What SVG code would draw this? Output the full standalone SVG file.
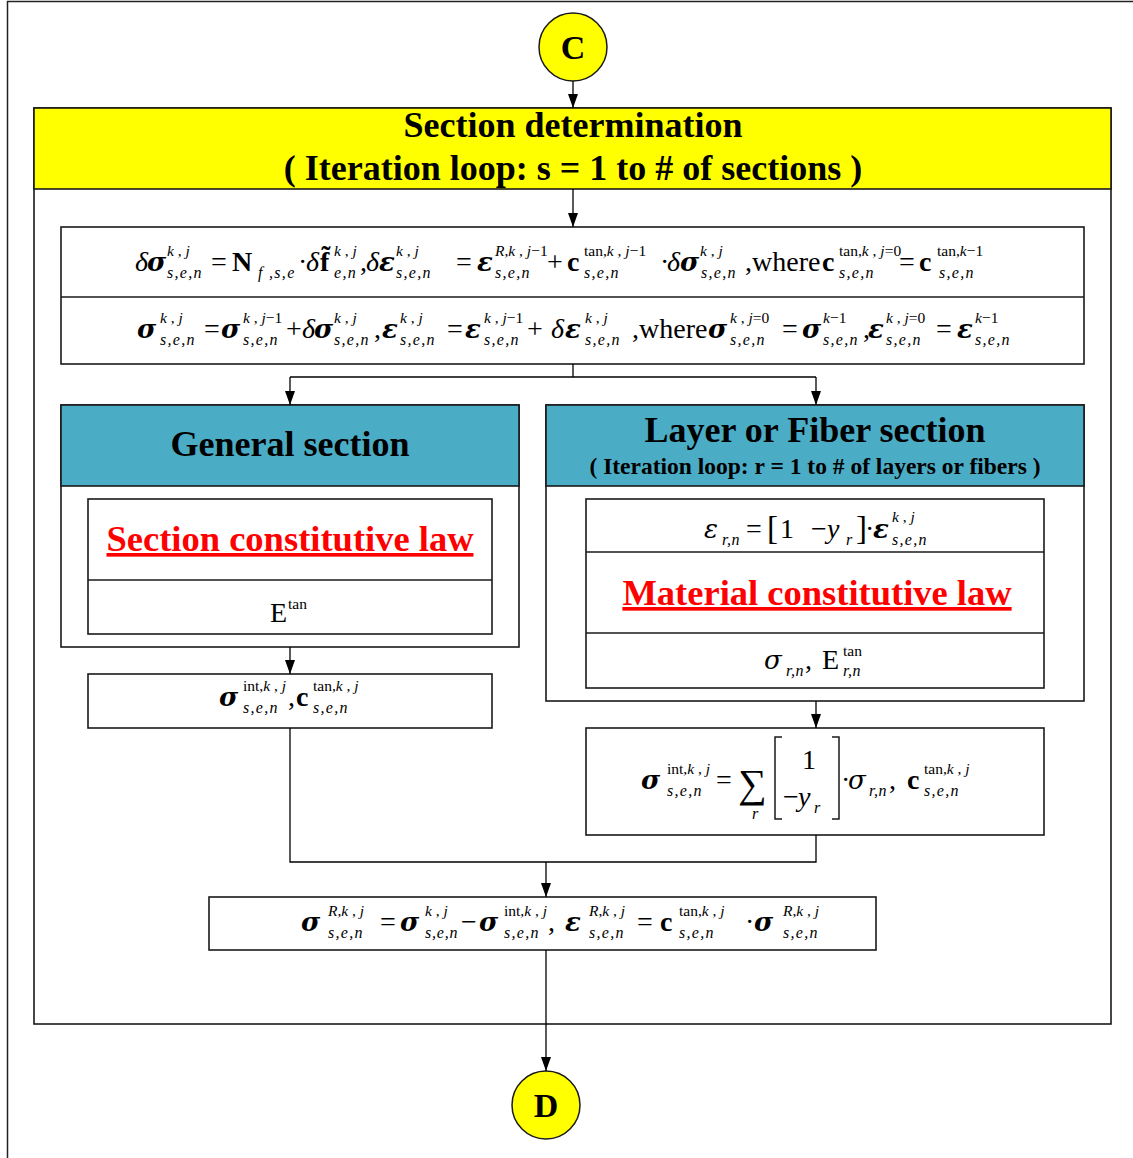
<svg xmlns="http://www.w3.org/2000/svg" width="1133" height="1158" viewBox="0 0 1133 1158">
<style>
.t{font-family:"Liberation Serif","DejaVu Serif",serif;fill:#000}
.m{font-size:28px}
.g{font-family:"DejaVu Serif",serif;font-size:26px}
.sp{font-size:15.5px}
.sb{font-size:16px;font-style:italic;letter-spacing:1.3px}
.bi{font-weight:bold;font-style:italic}
.b{font-weight:bold}
.i{font-style:italic}
.box{fill:#fff;stroke:#1a1a1a;stroke-width:1.6}
.ln{fill:none;stroke:#1a1a1a;stroke-width:1.3}
.hd{font-family:"Liberation Serif",serif;font-weight:bold;font-size:36px;text-anchor:middle}
.law{font-family:"Liberation Serif",serif;font-weight:bold;font-size:36.5px;text-anchor:middle;fill:#ff0000;text-decoration:underline}
</style>
<defs>
<marker id="ar" markerWidth="14" markerHeight="10" refX="14" refY="5" orient="auto" markerUnits="userSpaceOnUse"><path d="M0,0 L14,5 L0,10 z" fill="#000"/></marker>
</defs>
<rect width="1133" height="1158" fill="#fff"/>
<path d="M7.5,1158 V1.5 H1133" fill="none" stroke="#222" stroke-width="1.5"/>

<g id="section">
<rect class="box" x="34" y="108" width="1077" height="916"/>
<rect x="34" y="108" width="1077" height="81" fill="#ffff00" stroke="#1a1a1a" stroke-width="1.6"/>
<text class="hd" x="573" y="137">Section determination</text>
<text class="hd" x="573" y="180">( Iteration loop: s = 1 to # of sections )</text>
</g>

<g id="nodeC">
<circle cx="573" cy="47" r="34" fill="#ffff00" stroke="#1a1a1a" stroke-width="1.5"/>
<text class="hd" x="573" y="59" style="font-size:34px">C</text>
</g>

<g id="nodeD">
<circle cx="546" cy="1105" r="34" fill="#ffff00" stroke="#1a1a1a" stroke-width="1.5"/>
<text class="hd" x="546" y="1117" style="font-size:34px">D</text>
</g>

<g id="increment">
<rect class="box" x="61" y="227" width="1023" height="137"/>
<line class="ln" x1="61" y1="297" x2="1084" y2="297" style="stroke-width:1.6"/>
<!-- row 1 -->
<text class="t m i" x="135" y="271">δ</text>
<text class="t g bi" x="147" y="271">σ</text>
<text class="t sp" x="167" y="256"><tspan class="i">k</tspan> , <tspan class="i">j</tspan></text>
<text class="t sb" x="167" y="278">s,e,n</text>
<text class="t m" x="211" y="271">=</text>
<text class="t m b" x="232" y="271">N</text>
<text class="t sb" x="258" y="278">f ,s,e</text>
<text class="t m" x="298" y="271">·</text>
<text class="t m i" x="306" y="271">δ</text>
<text class="t m b" x="320" y="271">f̃</text>
<text class="t sp" x="334" y="256"><tspan class="i">k</tspan> , <tspan class="i">j</tspan></text>
<text class="t sb" x="334" y="278">e,n</text>
<text class="t m" x="360" y="271">,</text>
<text class="t m i" x="366" y="271">δ</text>
<text class="t g bi" x="379" y="271">ε</text>
<text class="t sp" x="396" y="256"><tspan class="i">k</tspan> , <tspan class="i">j</tspan></text>
<text class="t sb" x="396" y="278">s,e,n</text>
<text class="t m" x="456" y="271">=</text>
<text class="t g bi" x="477" y="271">ε</text>
<text class="t sp" x="495" y="256"><tspan class="i">R</tspan>,<tspan class="i">k</tspan> , <tspan class="i">j</tspan>−1</text>
<text class="t sb" x="495" y="278">s,e,n</text>
<text class="t m" x="547" y="271">+</text>
<text class="t m b" x="567" y="271">c</text>
<text class="t sp" x="584" y="256">tan,<tspan class="i">k</tspan> , <tspan class="i">j</tspan>−1</text>
<text class="t sb" x="584" y="278">s,e,n</text>
<text class="t m" x="660" y="271">·</text>
<text class="t m i" x="667" y="271">δ</text>
<text class="t g bi" x="680" y="271">σ</text>
<text class="t sp" x="700" y="256"><tspan class="i">k</tspan> , <tspan class="i">j</tspan></text>
<text class="t sb" x="701" y="278">s,e,n</text>
<text class="t m" x="745" y="271">,where</text>
<text class="t m b" x="822" y="271">c</text>
<text class="t sp" x="839" y="256">tan,<tspan class="i">k</tspan> , <tspan class="i">j</tspan>=0</text>
<text class="t sb" x="839" y="278">s,e,n</text>
<text class="t m" x="899" y="271">=</text>
<text class="t m b" x="919" y="271">c</text>
<text class="t sp" x="937" y="256">tan,<tspan class="i">k</tspan>−1</text>
<text class="t sb" x="939" y="278">s,e,n</text>
<!-- row 2 -->
<text class="t g bi" x="137" y="338">σ</text>
<text class="t sp" x="160" y="323"><tspan class="i">k</tspan> , <tspan class="i">j</tspan></text>
<text class="t sb" x="160" y="345">s,e,n</text>
<text class="t m" x="204" y="338">=</text>
<text class="t g bi" x="221" y="338">σ</text>
<text class="t sp" x="243" y="323"><tspan class="i">k</tspan> , <tspan class="i">j</tspan>−1</text>
<text class="t sb" x="243" y="345">s,e,n</text>
<text class="t m" x="286" y="338">+</text>
<text class="t m i" x="302" y="338">δ</text>
<text class="t g bi" x="314" y="338">σ</text>
<text class="t sp" x="334" y="323"><tspan class="i">k</tspan> , <tspan class="i">j</tspan></text>
<text class="t sb" x="334" y="345">s,e,n</text>
<text class="t m" x="374" y="338">,</text>
<text class="t g bi" x="382" y="338">ε</text>
<text class="t sp" x="400" y="323"><tspan class="i">k</tspan> , <tspan class="i">j</tspan></text>
<text class="t sb" x="400" y="345">s,e,n</text>
<text class="t m" x="447" y="338">=</text>
<text class="t g bi" x="465" y="338">ε</text>
<text class="t sp" x="484" y="323"><tspan class="i">k</tspan> , <tspan class="i">j</tspan>−1</text>
<text class="t sb" x="484" y="345">s,e,n</text>
<text class="t m" x="527" y="338">+</text>
<text class="t m i" x="551" y="338">δ</text>
<text class="t g bi" x="565" y="338">ε</text>
<text class="t sp" x="585" y="323"><tspan class="i">k</tspan> , <tspan class="i">j</tspan></text>
<text class="t sb" x="585" y="345">s,e,n</text>
<text class="t m" x="632" y="338">,where</text>
<text class="t g bi" x="708" y="338">σ</text>
<text class="t sp" x="730" y="323"><tspan class="i">k</tspan> , <tspan class="i">j</tspan>=0</text>
<text class="t sb" x="730" y="345">s,e,n</text>
<text class="t m" x="782" y="338">=</text>
<text class="t g bi" x="802" y="338">σ</text>
<text class="t sp" x="823" y="323"><tspan class="i">k</tspan>−1</text>
<text class="t sb" x="823" y="345">s,e,n</text>
<text class="t m" x="863" y="338">,</text>
<text class="t g bi" x="868" y="338">ε</text>
<text class="t sp" x="886" y="323"><tspan class="i">k</tspan> , <tspan class="i">j</tspan>=0</text>
<text class="t sb" x="886" y="345">s,e,n</text>
<text class="t m" x="936" y="338">=</text>
<text class="t g bi" x="957" y="338">ε</text>
<text class="t sp" x="975" y="323"><tspan class="i">k</tspan>−1</text>
<text class="t sb" x="975" y="345">s,e,n</text>
</g>

<g id="general">
<rect class="box" x="61" y="405" width="458" height="242"/>
<rect x="61" y="405" width="458" height="81" fill="#4bacc6" stroke="#1a1a1a" stroke-width="1.6"/>
<text class="hd" x="290" y="456">General section</text>
<rect class="box" x="88" y="499" width="404" height="135"/>
<line class="ln" x1="88" y1="580" x2="492" y2="580" style="stroke-width:1.6"/>
<text class="law" x="290" y="551">Section constitutive law</text>
<text class="t m" x="270" y="622">E</text>
<text class="t sp" x="288" y="609">tan</text>
</g>

<g id="generalOut">
<rect class="box" x="88" y="674" width="404" height="54"/>
<text class="t g bi" x="219" y="706">σ</text>
<text class="t sp" x="243" y="691">int,<tspan class="i">k</tspan> , <tspan class="i">j</tspan></text>
<text class="t sb" x="243" y="713">s,e,n</text>
<text class="t m" x="288" y="706">,</text>
<text class="t m b" x="296" y="706">c</text>
<text class="t sp" x="313" y="691">tan,<tspan class="i">k</tspan> , <tspan class="i">j</tspan></text>
<text class="t sb" x="313" y="713">s,e,n</text>
</g>

<g id="layer">
<rect class="box" x="546" y="405" width="538" height="296"/>
<rect x="546" y="405" width="538" height="81" fill="#4bacc6" stroke="#1a1a1a" stroke-width="1.6"/>
<text class="hd" x="815" y="442">Layer or Fiber section</text>
<text class="hd" x="815" y="474" style="font-size:23.5px">( Iteration loop: r = 1 to # of layers or fibers )</text>
<rect class="box" x="586" y="499" width="458" height="189"/>
<line class="ln" x1="586" y1="552" x2="1044" y2="552" style="stroke-width:1.6"/>
<line class="ln" x1="586" y1="633" x2="1044" y2="633" style="stroke-width:1.6"/>
<text class="t g i" x="704" y="538">ε</text>
<text class="t sb" x="722" y="545" style="letter-spacing:0.5px">r,n</text>
<text class="t m" x="746" y="538">=</text>
<text class="t m" x="767" y="539" style="font-size:33px">[</text>
<text class="t m" x="780" y="538">1</text>
<text class="t m" x="811" y="538">−</text>
<text class="t m i" x="827" y="538">y</text>
<text class="t sb" x="846" y="545">r</text>
<text class="t m" x="856" y="539" style="font-size:33px">]</text>
<text class="t m" x="865" y="538">·</text>
<text class="t g bi" x="873" y="538">ε</text>
<text class="t sp" x="892" y="522"><tspan class="i">k</tspan> , <tspan class="i">j</tspan></text>
<text class="t sb" x="892" y="545">s,e,n</text>
<text class="law" x="817" y="605">Material constitutive law</text>
<text class="t g i" x="764" y="669">σ</text>
<text class="t sb" x="786" y="676" style="letter-spacing:0.5px">r,n</text>
<text class="t m" x="805" y="669">,</text>
<text class="t m" x="822" y="669">E</text>
<text class="t sp" x="843" y="656">tan</text>
<text class="t sb" x="843" y="676" style="letter-spacing:0.5px">r,n</text>
</g>

<g id="layerOut">
<rect class="box" x="586" y="728" width="458" height="107"/>
<text class="t g bi" x="641" y="789">σ</text>
<text class="t sp" x="667" y="774">int,<tspan class="i">k</tspan> , <tspan class="i">j</tspan></text>
<text class="t sb" x="667" y="796">s,e,n</text>
<text class="t m" x="716" y="789">=</text>
<text class="t m" x="738" y="797" style="font-size:40px">∑</text>
<text class="t sb" x="752" y="819">r</text>
<path class="ln" d="M782,737 H775 V819 H782 M832,737 H839 V819 H832" style="stroke-width:1.5"/>
<text class="t m" x="802" y="769">1</text>
<text class="t m" x="783" y="806">−</text>
<text class="t m i" x="798" y="806">y</text>
<text class="t sb" x="814" y="813">r</text>
<text class="t m" x="841" y="789">·</text>
<text class="t g i" x="848" y="789">σ</text>
<text class="t sb" x="869" y="796" style="letter-spacing:0.5px">r,n</text>
<text class="t m" x="889" y="789">,</text>
<text class="t m b" x="907" y="789">c</text>
<text class="t sp" x="924" y="774">tan,<tspan class="i">k</tspan> , <tspan class="i">j</tspan></text>
<text class="t sb" x="924" y="796">s,e,n</text>
</g>

<g id="residual">
<rect class="box" x="209" y="897" width="667" height="53"/>
<text class="t g bi" x="301" y="931">σ</text>
<text class="t sp" x="328" y="916"><tspan class="i">R</tspan>,<tspan class="i">k</tspan> , <tspan class="i">j</tspan></text>
<text class="t sb" x="328" y="938">s,e,n</text>
<text class="t m" x="380" y="931">=</text>
<text class="t g bi" x="400" y="931">σ</text>
<text class="t sp" x="425" y="916"><tspan class="i">k</tspan> , <tspan class="i">j</tspan></text>
<text class="t sb" x="425" y="938" style="letter-spacing:0.8px">s,e,n</text>
<text class="t m" x="461" y="931">−</text>
<text class="t g bi" x="479" y="931">σ</text>
<text class="t sp" x="504" y="916">int,<tspan class="i">k</tspan> , <tspan class="i">j</tspan></text>
<text class="t sb" x="504" y="938">s,e,n</text>
<text class="t m" x="548" y="931">,</text>
<text class="t g bi" x="565" y="931">ε</text>
<text class="t sp" x="589" y="916"><tspan class="i">R</tspan>,<tspan class="i">k</tspan> , <tspan class="i">j</tspan></text>
<text class="t sb" x="589" y="938">s,e,n</text>
<text class="t m" x="637" y="931">=</text>
<text class="t m b" x="660" y="931">c</text>
<text class="t sp" x="679" y="916">tan,<tspan class="i">k</tspan> , <tspan class="i">j</tspan></text>
<text class="t sb" x="679" y="938">s,e,n</text>
<text class="t m" x="745" y="931">·</text>
<text class="t g bi" x="754" y="931">σ</text>
<text class="t sp" x="783" y="916"><tspan class="i">R</tspan>,<tspan class="i">k</tspan> , <tspan class="i">j</tspan></text>
<text class="t sb" x="783" y="938">s,e,n</text>
</g>

<g id="connectors" fill="none" stroke="#000" stroke-width="1.3">
<line x1="573" y1="81" x2="573" y2="108" marker-end="url(#ar)"/>
<line x1="573" y1="189" x2="573" y2="227" marker-end="url(#ar)"/>
<path d="M573,364 V377"/>
<path d="M290,377 H816"/>
<line x1="290" y1="377" x2="290" y2="405" marker-end="url(#ar)"/>
<line x1="816" y1="377" x2="816" y2="405" marker-end="url(#ar)"/>
<line x1="290" y1="647" x2="290" y2="674" marker-end="url(#ar)"/>
<line x1="816" y1="701" x2="816" y2="728" marker-end="url(#ar)"/>
<path d="M290,728 V862 H816 V835"/>
<line x1="546" y1="862" x2="546" y2="897" marker-end="url(#ar)"/>
<line x1="546" y1="950" x2="546" y2="1071" marker-end="url(#ar)"/>
</g>
</svg>
